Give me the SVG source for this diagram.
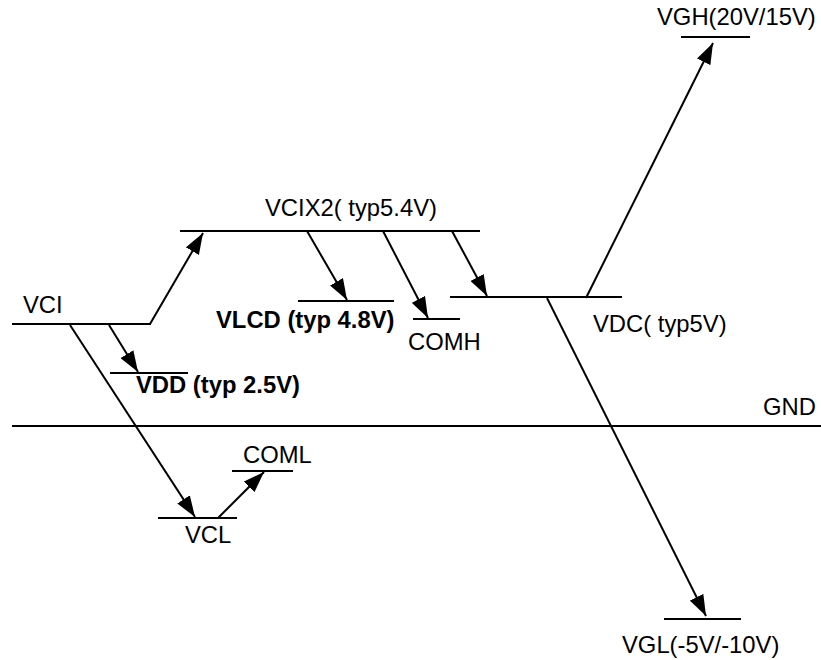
<svg xmlns="http://www.w3.org/2000/svg" width="821" height="660" viewBox="0 0 821 660">
<style>
.lv{stroke:#000;stroke-width:2;fill:none}
.cn{stroke:#000;stroke-width:2;fill:none;marker-end:url(#ah)}
text{font-family:"Liberation Sans",Arial,sans-serif;font-size:23.8px;fill:#000}
.b{font-weight:bold}
</style>
<defs>
<marker id="ah" viewBox="0 0 21 15" refX="21" refY="7.5" markerWidth="21" markerHeight="15" markerUnits="userSpaceOnUse" orient="auto">
<path d="M0,0 L21,7.5 L0,15 Z" fill="#000"/>
</marker>
</defs>
<rect width="821" height="660" fill="#fff"/>
<g id="VCI"><line class="lv" x1="12" y1="324" x2="151" y2="324"/><text x="23" y="313">VCI</text></g>
<g id="VCIX2"><line class="lv" x1="180" y1="231" x2="480" y2="231"/><text x="265" y="216">VCIX2( typ5.4V)</text></g>
<g id="VDD"><line class="lv" x1="110" y1="373" x2="188" y2="373"/><text class="b" x="136" y="393">VDD (typ 2.5V)</text></g>
<g id="VLCD"><line class="lv" x1="298" y1="301" x2="394" y2="301"/><text class="b" x="216" y="328">VLCD (typ 4.8V)</text></g>
<g id="COMH"><line class="lv" x1="413" y1="319" x2="460" y2="319"/><text x="408" y="350">COMH</text></g>
<g id="VDC"><line class="lv" x1="450" y1="297" x2="622" y2="297"/><text x="593" y="332">VDC( typ5V)</text></g>
<g id="VGH"><line class="lv" x1="681" y1="37" x2="750" y2="37"/><text x="657" y="25">VGH(20V/15V)</text></g>
<g id="GND"><line class="lv" x1="12" y1="426" x2="821" y2="426"/><text x="816" y="415" text-anchor="end">GND</text></g>
<g id="VCL"><line class="lv" x1="158" y1="518" x2="237" y2="518"/><text x="185" y="543">VCL</text></g>
<g id="COML"><line class="lv" x1="232" y1="471" x2="293" y2="471"/><text x="243" y="463">COML</text></g>
<g id="VGL"><line class="lv" x1="664" y1="619" x2="741" y2="619"/><text x="622" y="653">VGL(-5V/-10V)</text></g>
<g id="connectors">
<line class="cn" x1="150" y1="324" x2="203" y2="233"/>
<line class="cn" x1="109" y1="325" x2="138" y2="372"/>
<line class="cn" x1="70" y1="325" x2="195" y2="517"/>
<line class="cn" x1="218" y1="518" x2="264" y2="472"/>
<line class="cn" x1="307" y1="231" x2="347" y2="300"/>
<line class="cn" x1="383" y1="231" x2="428" y2="318"/>
<line class="cn" x1="452" y1="231" x2="487" y2="296"/>
<line class="cn" x1="586" y1="298" x2="713" y2="43"/>
<line class="cn" x1="547" y1="298" x2="706" y2="616"/>
</g>
</svg>
